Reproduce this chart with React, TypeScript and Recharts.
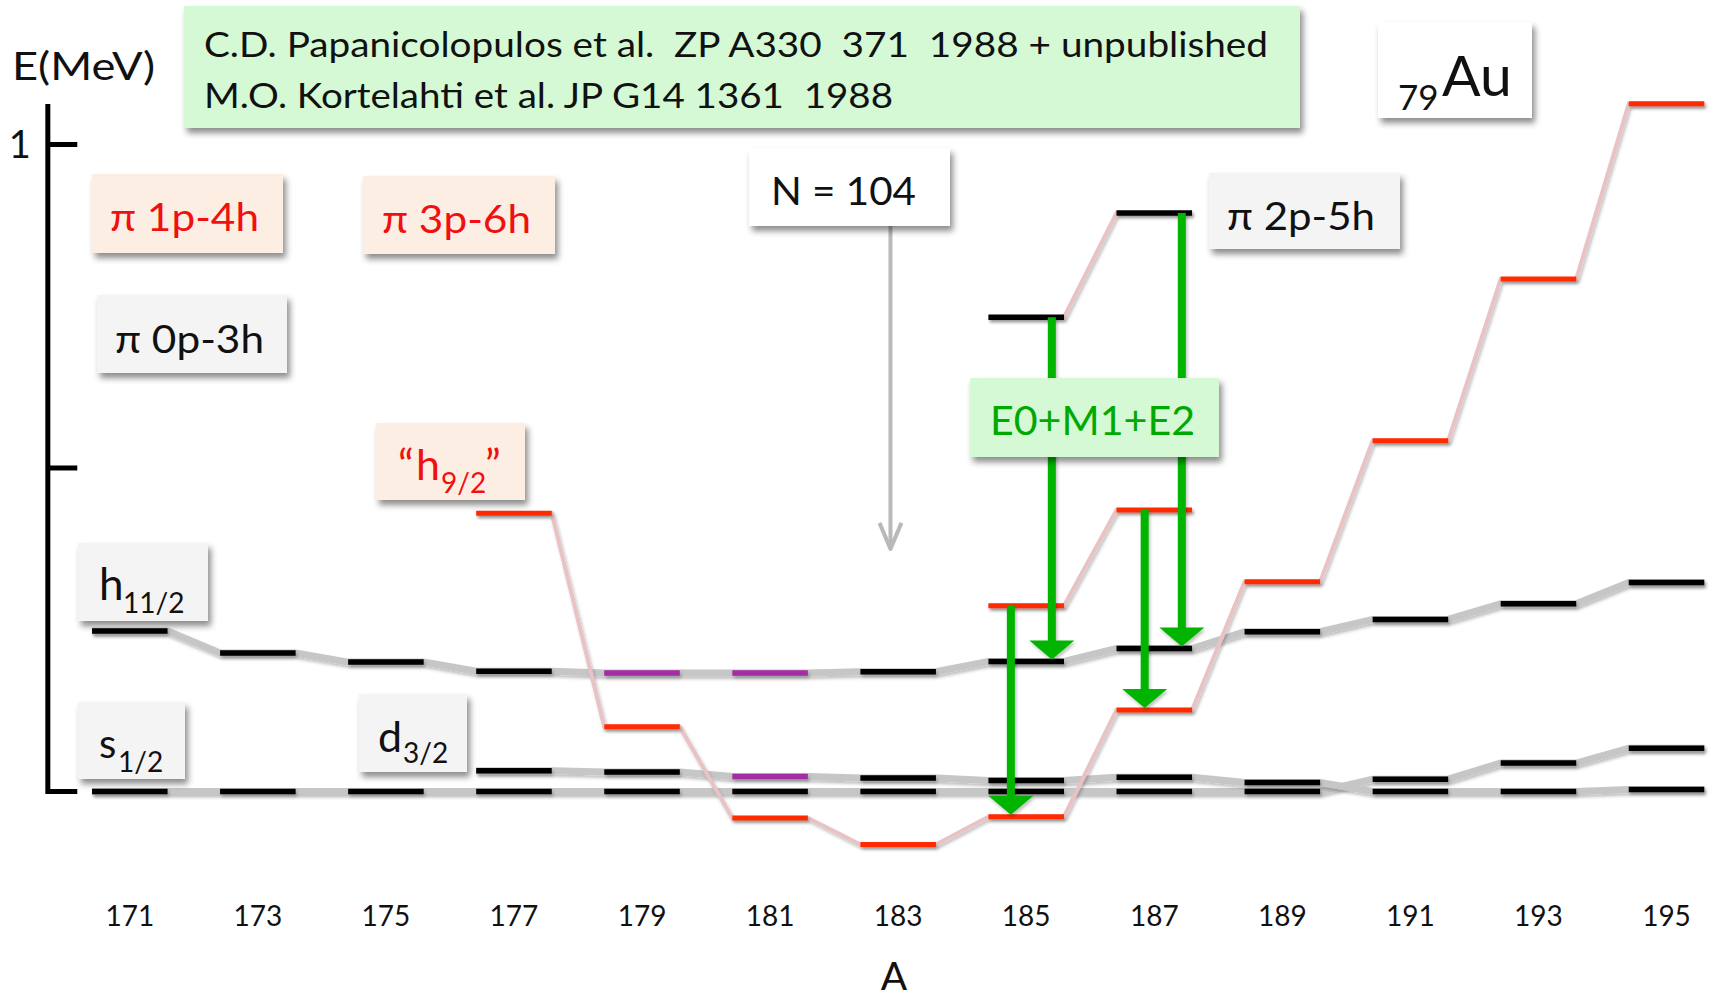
import React from "react";
import { ComposedChart, Line, XAxis, YAxis, ReferenceLine } from "recharts";

// mass numbers of the odd gold isotopes (Z = 79)
const massNumbers = [171, 173, 175, 177, 179, 181, 183, 185, 187, 189, 191, 193, 195];

// pi 0p-3h states, excitation energy in MeV
const s12Energy = [0, 0, 0, 0, 0, 0, 0, 0, 0, 0, 0.019, 0.044, 0.067];
const h112Energy = [0.248, 0.214, 0.2, 0.186, 0.183, 0.183, 0.185, 0.201, 0.221, 0.247, 0.266, 0.29, 0.323];
const d32Mass = [177, 179, 181, 183, 185, 187, 189, 191, 193, 195];
const d32Energy = [0.032, 0.03, 0.023, 0.021, 0.017, 0.022, 0.014, 0, 0, 0.003];

// intruder configurations
const h92Mass = [177, 179, 181, 183, 185, 187, 189, 191, 193, 195];
const h92Energy = [0.43, 0.1, -0.041, -0.082, -0.039, 0.126, 0.324, 0.542, 0.792, 1.063];
const p3h6Mass = [185, 187];
const p3h6Energy = [0.287, 0.435];
const p2h5Mass = [185, 187];
const p2h5Energy = [0.733, 0.894];

// levels of mixed character (drawn purple)
const h112Mixed = [179, 181];
const d32Mixed = [181];

// E0+M1+E2 transitions between bands
const transitions = [
  { a: 185, from: "p2h5", to: "h112" },
  { a: 187, from: "p2h5", to: "h112" },
  { a: 185, from: "p3h6", to: "h92" },
  { a: 187, from: "p3h6", to: "h92" },
];

const protonNumber = 79;
const midShellN = 104;
const energyTicks = [0, 0.5, 1];

// ---- layout ----
const W = 1710;
const H = 1000;
const X_DOMAIN: [number, number] = [168.973, 195.679];
const Y_DOMAIN: [number, number] = [-0.1368, 1.2233];
const HALF_BAR = 0.59;
const AXIS_A = 169.72;
const AXIS_TICK = 0.46;
const AXIS_TOP = 1.0626;
const AXIS_BOTTOM = -0.004;
const ARROW_SHIFT = [0.4, 0.43, -0.24, -0.15];
const N_MARK_TOP = 0.9;
const N_MARK_TIP = 0.375;

const BLACK = "#000000";
const PURPLE = "#a12ea3";
const RED = "#ff2a00";
const GREY_LINK = "#c6c6c6";
const PINK_LINK = "#e9c3c3";
const GREEN = "#00b400";
const FONT = "Lato, 'Liberation Sans', sans-serif";

type Pt = { a: number; e: number | null };

const bands: Record<string, { mass: number[]; energy: number[] }> = {
  s12: { mass: massNumbers, energy: s12Energy },
  h112: { mass: massNumbers, energy: h112Energy },
  d32: { mass: d32Mass, energy: d32Energy },
  h92: { mass: h92Mass, energy: h92Energy },
  p3h6: { mass: p3h6Mass, energy: p3h6Energy },
  p2h5: { mass: p2h5Mass, energy: p2h5Energy },
};

function levelOf(band: string, a: number) {
  const b = bands[band];
  return b.energy[b.mass.indexOf(a)];
}

// polyline from the end of one level to the start of the next
function linkPoints(band: string): Pt[] {
  const b = bands[band];
  const pts: Pt[] = [];
  b.mass.forEach((a, i) => {
    pts.push({ a: a - HALF_BAR, e: b.energy[i] }, { a: a + HALF_BAR, e: b.energy[i] });
  });
  return pts;
}

// separate short bars, broken by null points
function barPoints(band: string, keep: (a: number) => boolean): Pt[] {
  const b = bands[band];
  const pts: Pt[] = [];
  b.mass.forEach((a, i) => {
    if (!keep(a)) return;
    pts.push({ a: a - HALF_BAR, e: b.energy[i] }, { a: a + HALF_BAR, e: b.energy[i] }, { a: a + 1, e: null });
  });
  return pts;
}

function TransitionArrow(props: any) {
  const { x1, y1, x2, y2 } = props;
  const headH = 19;
  const headW = 45;
  const tip = y2 - 2;
  return (
    <g filter="url(#lineShadow)">
      <line x1={x1} y1={y1} x2={x2} y2={tip - headH + 1} stroke={GREEN} strokeWidth={8} />
      <polygon
        points={`${x2 - headW / 2},${tip - headH} ${x2 + headW / 2},${tip - headH} ${x2},${tip}`}
        fill={GREEN}
      />
    </g>
  );
}

function MarkerArrow(props: any) {
  const { x1, y1, x2, y2 } = props;
  return (
    <g stroke="#b9b9b9" strokeWidth={4} fill="none">
      <line x1={x1} y1={y1} x2={x2} y2={y2} />
      <polyline points={`${x2 - 11},${y2 - 26} ${x2},${y2} ${x2 + 11},${y2 - 26}`} strokeLinejoin="round" />
    </g>
  );
}

function seriesLine(key: string, data: Pt[], stroke: string, width: number) {
  return (
    <Line
      key={key}
      data={data}
      dataKey="e"
      type="linear"
      stroke={stroke}
      strokeWidth={width}
      filter="url(#lineShadow)"
      dot={false}
      activeDot={false}
      connectNulls={false}
      isAnimationActive={false}
      legendType="none"
    />
  );
}

function Box({ x, y, w, h, fill }: { x: number; y: number; w: number; h: number; fill: string }) {
  return <rect x={x} y={y} width={w} height={h} fill={fill} filter="url(#boxShadow)" />;
}

const PEACH = "#fdeee3";
const LIGHT = "#f4f4f4";
const MINT = "#d4f9d4";

export default function App() {
  const notMixed = (list: number[]) => (a: number) => !list.includes(a);
  const isMixed = (list: number[]) => (a: number) => list.includes(a);

  return (
    <div style={{ position: "absolute", left: 0, top: 0, width: W, height: H, background: "#fff" }}>
      <svg width={0} height={0} style={{ position: "absolute" }}>
        <defs>
          <filter id="boxShadow" x="-10%" y="-10%" width="130%" height="140%">
            <feDropShadow dx={3} dy={5} stdDeviation={3} floodColor="#000" floodOpacity={0.45} />
          </filter>
          <filter id="lineShadow" filterUnits="userSpaceOnUse" x={0} y={0} width={W} height={H}>
            <feDropShadow dx={1.5} dy={2.5} stdDeviation={1.5} floodColor="#000" floodOpacity={0.25} />
          </filter>
        </defs>
      </svg>

      <ComposedChart width={W} height={H} margin={{ top: 0, right: 0, bottom: 0, left: 0 }}>
        <XAxis
          type="number"
          dataKey="a"
          domain={X_DOMAIN}
          allowDataOverflow
          ticks={massNumbers}
          interval={0}
          axisLine={false}
          tickLine={false}
          tickSize={0}
          tickMargin={26}
          height={120}
          tick={{ fontFamily: FONT, fontSize: 28, fill: "#111" }}
        />
        <YAxis type="number" dataKey="e" domain={Y_DOMAIN} allowDataOverflow hide width={0} />

        {/* energy axis */}
        <ReferenceLine
          segment={[
            { x: AXIS_A, y: AXIS_BOTTOM },
            { x: AXIS_A, y: AXIS_TOP },
          ]}
          stroke={BLACK}
          strokeWidth={5}
        />
        {energyTicks.map((t) => (
          <ReferenceLine
            key={`tick-${t}`}
            segment={[
              { x: AXIS_A, y: t },
              { x: AXIS_A + AXIS_TICK, y: t },
            ]}
            stroke={BLACK}
            strokeWidth={5}
            label={
              t === 1
                ? { value: "1", position: "left", offset: 17, fontFamily: FONT, fontSize: 38, fill: "#111" }
                : undefined
            }
          />
        ))}

        {/* band links */}
        {seriesLine("link-s12", linkPoints("s12"), GREY_LINK, 7)}
        {seriesLine("link-d32", linkPoints("d32"), GREY_LINK, 7)}
        {seriesLine("link-h112", linkPoints("h112"), GREY_LINK, 7)}
        {seriesLine("link-h92", linkPoints("h92"), PINK_LINK, 4)}
        {seriesLine("link-p3h6", linkPoints("p3h6"), PINK_LINK, 4)}
        {seriesLine("link-p2h5", linkPoints("p2h5"), PINK_LINK, 4)}

        {/* levels */}
        {seriesLine("bar-s12", barPoints("s12", () => true), BLACK, 5.5)}
        {seriesLine("bar-d32", barPoints("d32", notMixed(d32Mixed)), BLACK, 5.5)}
        {seriesLine("bar-d32-mix", barPoints("d32", isMixed(d32Mixed)), PURPLE, 5.5)}
        {seriesLine("bar-h112", barPoints("h112", notMixed(h112Mixed)), BLACK, 5.5)}
        {seriesLine("bar-h112-mix", barPoints("h112", isMixed(h112Mixed)), PURPLE, 5.5)}
        {seriesLine("bar-p2h5", barPoints("p2h5", () => true), BLACK, 5.5)}
        {seriesLine("bar-h92", barPoints("h92", () => true), RED, 5)}
        {seriesLine("bar-p3h6", barPoints("p3h6", () => true), RED, 5)}

        {/* N = 104 mid-shell marker */}
        <ReferenceLine
          segment={[
            { x: protonNumber + midShellN - 0.12, y: N_MARK_TOP },
            { x: protonNumber + midShellN - 0.12, y: N_MARK_TIP },
          ]}
          shape={MarkerArrow}
        />

        {/* E0+M1+E2 transitions */}
        {transitions.map((t, i) => (
          <ReferenceLine
            key={`tr-${i}`}
            segment={[
              { x: t.a + ARROW_SHIFT[i], y: levelOf(t.from, t.a) },
              { x: t.a + ARROW_SHIFT[i], y: levelOf(t.to, t.a) },
            ]}
            shape={TransitionArrow}
          />
        ))}
      </ComposedChart>

      <svg
        width={W}
        height={H}
        style={{ position: "absolute", left: 0, top: 0, pointerEvents: "none", fontFamily: FONT }}
      >
        {/* references */}
        <Box x={184} y={6} w={1116} h={122} fill={MINT} />
        <text x={204} y={57} fontSize={35} fill="#111" textLength={1064} lengthAdjust="spacingAndGlyphs" style={{ whiteSpace: "pre" }}>
          C.D. Papanicolopulos et al.  ZP A330  371  1988 + unpublished
        </text>
        <text x={204} y={108} fontSize={35} fill="#111" textLength={689} lengthAdjust="spacingAndGlyphs" style={{ whiteSpace: "pre" }}>
          M.O. Kortelahti et al. JP G14 1361  1988
        </text>

        {/* axis titles */}
        <text x={12} y={80} fontSize={39} fill="#111" textLength={143} lengthAdjust="spacingAndGlyphs">
          E(MeV)
        </text>
        <text x={894} y={990} fontSize={39} fill="#111" textAnchor="middle">
          A
        </text>

        {/* element */}
        <Box x={1378} y={22} w={154} h={96} fill="#ffffff" />
        <text fill="#111">
          <tspan x={1398} y={110} fontSize={35}>79</tspan>
          <tspan x={1442} y={96} fontSize={57}>Au</tspan>
        </text>

        {/* configurations */}
        <Box x={92} y={174} w={191} h={79} fill={PEACH} />
        <text x={110} y={231} fontSize={39} fill="#f01010" textLength={149} lengthAdjust="spacingAndGlyphs">π 1p-4h</text>
        <Box x={363} y={176} w={192} h={78} fill={PEACH} />
        <text x={382} y={233} fontSize={39} fill="#f01010" textLength={149} lengthAdjust="spacingAndGlyphs">π 3p-6h</text>
        <Box x={97} y={295} w={190} h={78} fill={LIGHT} />
        <text x={115} y={353} fontSize={39} fill="#111" textLength={149} lengthAdjust="spacingAndGlyphs">π 0p-3h</text>
        <Box x={1209} y={173} w={191} h={76} fill={LIGHT} />
        <text x={1227} y={230} fontSize={39} fill="#111" textLength={148} lengthAdjust="spacingAndGlyphs">π 2p-5h</text>

        <Box x={749} y={148} w={201} h={78} fill="#ffffff" />
        <text x={771} y={205} fontSize={39} fill="#111" textLength={145} lengthAdjust="spacingAndGlyphs" style={{ whiteSpace: "pre" }}>
          N = 104
        </text>

        <Box x={970} y={378} w={249} h={79} fill={MINT} />
        <text x={990} y={435} fontSize={40} fill="#00a800" textLength={205} lengthAdjust="spacingAndGlyphs">
          E0+M1+E2
        </text>

        {/* orbitals */}
        <Box x={376} y={423} w={149} h={77} fill={PEACH} />
        <text fill="#f01010" fontSize={43}>
          <tspan x={398} y={480}>“</tspan>
          <tspan x={416} y={480}>h</tspan>
          <tspan x={441} y={493} fontSize={28}>9/2</tspan>
          <tspan x={485} y={480}>”</tspan>
        </text>

        <Box x={78} y={543} w={130} h={78} fill={LIGHT} />
        <text fill="#111">
          <tspan x={99} y={600} fontSize={44}>h</tspan>
          <tspan x={123} y={613} fontSize={28}>11/2</tspan>
        </text>

        <Box x={78} y={702} w={107} h={77} fill={LIGHT} />
        <text fill="#111">
          <tspan x={99} y={758} fontSize={40}>s</tspan>
          <tspan x={118} y={772} fontSize={28}>1/2</tspan>
        </text>

        <Box x={359} y={694} w={108} h={78} fill={LIGHT} />
        <text fill="#111">
          <tspan x={378} y={752} fontSize={43}>d</tspan>
          <tspan x={403} y={763} fontSize={28}>3/2</tspan>
        </text>
      </svg>
    </div>
  );
}
